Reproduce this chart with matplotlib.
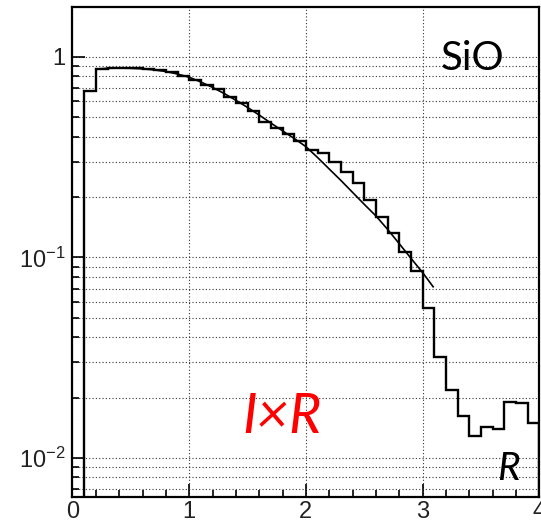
import numpy as np
import matplotlib
matplotlib.use("Agg")
import matplotlib.pyplot as plt
from matplotlib.ticker import FixedLocator, FixedFormatter, NullFormatter

# histogram: bins of 0.1 from 0.1 to 4.0 (bin 0.0-0.1 is empty)
bin_edges = np.round(np.arange(0.1, 4.0001, 0.1), 2)
hist_vals = [0.676, 0.875, 0.88, 0.88, 0.878, 0.87, 0.858, 0.84, 0.80, 0.77,
             0.725, 0.69, 0.63, 0.59, 0.535, 0.476, 0.44, 0.413, 0.38, 0.345,
             0.331, 0.30, 0.268, 0.234, 0.194, 0.16, 0.132, 0.107, 0.0857, 0.0558,
             0.0318, 0.0218, 0.0162, 0.0129, 0.0143, 0.0140, 0.019, 0.0187, 0.0149]

# smooth fit curve
curve_x = [0.2, 0.3, 0.4, 0.5, 0.6, 0.7, 0.8, 0.9, 1.0, 1.1, 1.2, 1.3, 1.4, 1.5,
           1.6, 1.7, 1.8, 1.9, 2.0, 2.1, 2.2, 2.3, 2.4, 2.5, 2.6, 2.7, 2.8, 2.9,
           3.0, 3.09]
curve_y = [0.870, 0.878, 0.880, 0.878, 0.872, 0.862, 0.846, 0.822, 0.792, 0.750,
           0.705, 0.657, 0.608, 0.560, 0.513, 0.468, 0.428, 0.392, 0.357, 0.315,
           0.276, 0.242, 0.211, 0.184, 0.161, 0.138, 0.117, 0.099, 0.084, 0.0714]

y_major = [0.01, 0.1, 1.0]
y_major_labels = [r"$10^{-2}$", r"$10^{-1}$", "1"]
x_major = [0, 1, 2, 3, 4]

plt.rcParams["font.family"] = ["Liberation Sans", "DejaVu Sans"]
plt.rcParams["mathtext.fontset"] = "custom"
plt.rcParams["mathtext.rm"] = "Liberation Sans"
plt.rcParams["mathtext.it"] = "Liberation Sans:italic"

fig = plt.figure(figsize=(5.41, 5.22), dpi=100)
ax = fig.add_axes([0.134, 0.048, 0.863, 0.9386])

ymin, ymax = 0.00639, 1.775
ax.set_yscale("log")
ax.set_xlim(0, 4)
ax.set_ylim(ymin, ymax)

ax.stairs(hist_vals, bin_edges, baseline=1e-3, color="black", lw=1.7, zorder=3)
ax.plot(curve_x, curve_y, color="black", lw=1.2, zorder=4)

# ticks
ax.xaxis.set_major_locator(FixedLocator(x_major))
ax.xaxis.set_minor_locator(FixedLocator(np.arange(0, 4.01, 0.2)))
minor_y = [m * d for d in (0.001, 0.01, 0.1, 1.0) for m in range(2, 10)]
ax.yaxis.set_major_locator(FixedLocator(y_major))
ax.yaxis.set_major_formatter(FixedFormatter(y_major_labels))
ax.yaxis.set_minor_locator(FixedLocator(minor_y))
ax.yaxis.set_minor_formatter(NullFormatter())
ax.tick_params(which="both", direction="in", top=False, right=False,
               width=1.2, labelsize=17, colors="black", labelcolor="#222222")
ax.tick_params(axis="x", which="major", length=9.5, pad=3)
ax.tick_params(axis="x", which="minor", length=5)
ax.tick_params(axis="y", which="major", length=9, pad=5)
ax.tick_params(axis="y", which="minor", length=5)

# grid
ax.grid(True, axis="x", which="major", ls=(0, (1, 2)), color="#333333", lw=0.8)
ax.grid(True, axis="y", which="both", ls=(0, (1, 2)), color="#333333", lw=0.8)

for s in ax.spines.values():
    s.set_linewidth(1.6)
    s.set_zorder(5)

ax.text(0.857, 0.871, "SiO", transform=ax.transAxes, ha="center", va="baseline",
        fontsize=29, family=["Lato", "DejaVu Sans"], color="black")
ax.text(0.363, 0.131, "I×R", transform=ax.transAxes, ha="left", va="baseline",
        fontsize=40, family=["Lato", "DejaVu Sans"], style="italic", color="red")
ax.text(0.934, 0.0347, "R", transform=ax.transAxes, ha="center", va="baseline",
        fontsize=28, family=["Lato", "DejaVu Sans"], style="italic", color="black")

fig.savefig("out.png", dpi=100)
plt.close(fig)
